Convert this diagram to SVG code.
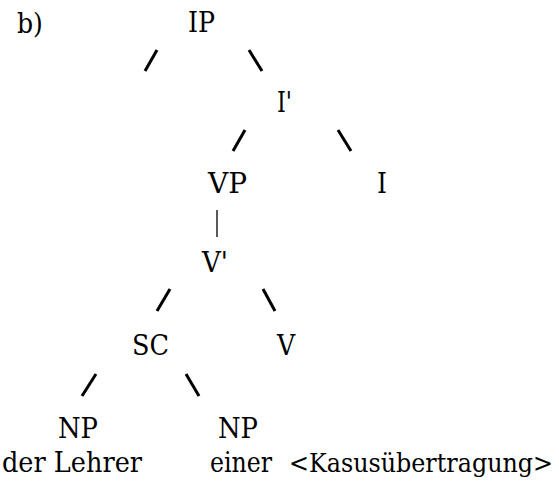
<svg xmlns="http://www.w3.org/2000/svg" width="559" height="481" viewBox="0 0 559 481">
<style>
text{font-family:'DejaVu Serif Condensed','DejaVu Serif',serif;font-size:28px;fill:#000}
.sl{stroke:#000;stroke-width:3;fill:none}
.bar{stroke:#000;stroke-width:1.3;fill:none}
</style>
<rect width="559" height="481" fill="#fff"/>
<text id="label" x="17" y="33">b)</text>
<g id="connectors">
<line class="sl" x1="157" y1="50" x2="145" y2="71"/>
<line class="sl" x1="249" y1="50" x2="262" y2="71"/>
<line class="sl" x1="245" y1="130" x2="233" y2="151"/>
<line class="sl" x1="338" y1="130" x2="351" y2="151"/>
<line class="bar" x1="217" y1="210" x2="217" y2="237"/>
<line class="sl" x1="170" y1="289" x2="157" y2="311"/>
<line class="sl" x1="263" y1="289" x2="275" y2="311"/>
<line class="sl" x1="96" y1="374" x2="82" y2="396"/>
<line class="sl" x1="186" y1="374" x2="199" y2="396"/>
</g>
<g id="IP"><text x="188" y="32" textLength="27" lengthAdjust="spacingAndGlyphs">IP</text></g>
<g id="Ibar"><text x="277" y="112" textLength="15" lengthAdjust="spacingAndGlyphs">I'</text></g>
<g id="VP"><text x="208" y="193" textLength="39" lengthAdjust="spacingAndGlyphs">VP</text></g>
<g id="I"><text x="377" y="193">I</text></g>
<g id="Vbar"><text x="202" y="272" textLength="26" lengthAdjust="spacingAndGlyphs">V'</text></g>
<g id="SC"><text x="132" y="355" textLength="37" lengthAdjust="spacingAndGlyphs">SC</text></g>
<g id="V"><text x="277" y="355">V</text></g>
<g id="NP1"><text x="58" y="438" textLength="40" lengthAdjust="spacingAndGlyphs">NP</text><text x="2" y="472" textLength="140" lengthAdjust="spacingAndGlyphs">der Lehrer</text></g>
<g id="NP2"><text x="218" y="438" textLength="40" lengthAdjust="spacingAndGlyphs">NP</text><text x="210" y="472" textLength="62" lengthAdjust="spacingAndGlyphs">einer</text></g>
<g id="kasus"><text x="289" y="472" font-size="26.5" style="font-size:26.5px" textLength="264" lengthAdjust="spacingAndGlyphs">&lt;Kasusübertragung&gt;</text></g>
</svg>
